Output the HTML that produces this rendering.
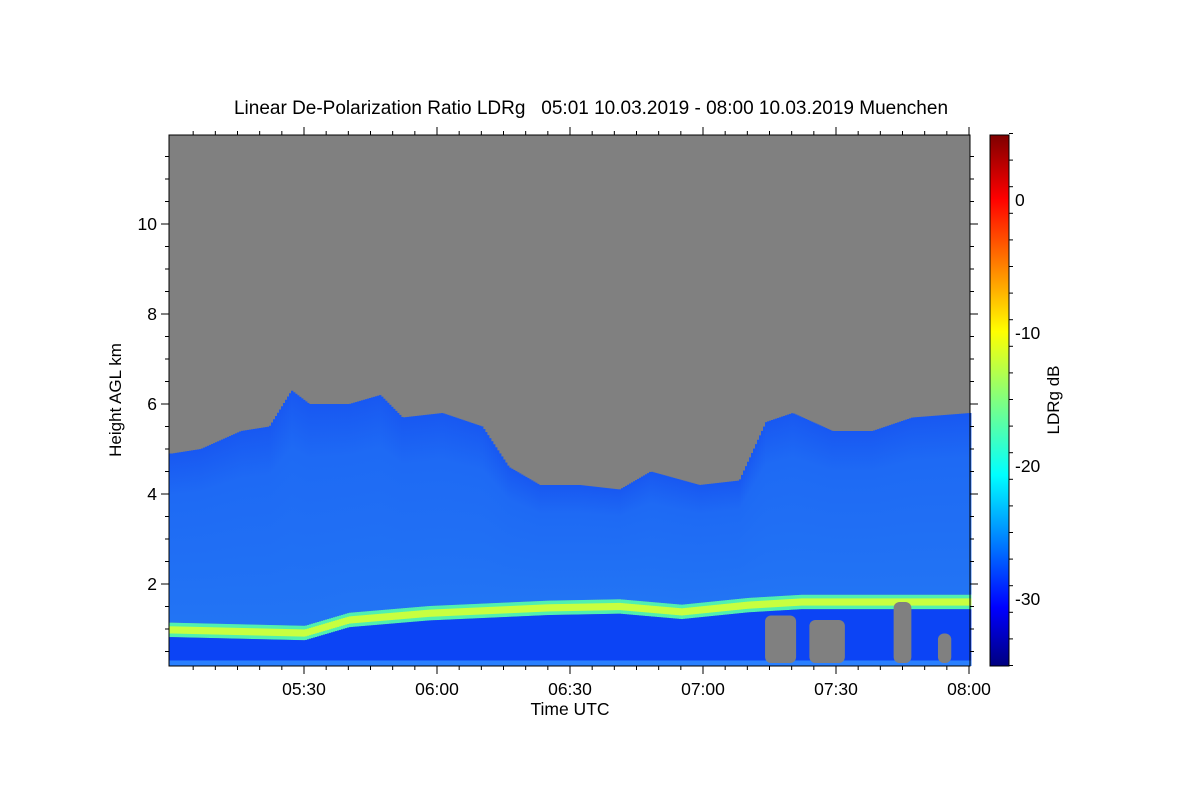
<!DOCTYPE html>
<html><head><meta charset="utf-8">
<style>
body{margin:0;background:#fff;}
svg text{font-family:"Liberation Sans",sans-serif;fill:#000;white-space:pre;}
</style></head>
<body>
<svg id="chart" width="1200" height="800" viewBox="0 0 1200 800" xmlns="http://www.w3.org/2000/svg">
<defs>
<linearGradient id="jet" x1="0" y1="1" x2="0" y2="0">
<stop offset="0" stop-color="#00007f"/>
<stop offset="0.11" stop-color="#0000ff"/>
<stop offset="0.36" stop-color="#00ffff"/>
<stop offset="0.5" stop-color="#80ff80"/>
<stop offset="0.63" stop-color="#ffff00"/>
<stop offset="0.88" stop-color="#ff0000"/>
<stop offset="1" stop-color="#7f0000"/>
</linearGradient>
<linearGradient id="upper" x1="0" y1="0" x2="0" y2="1">
<stop offset="0" stop-color="#1858f2"/>
<stop offset="0.25" stop-color="#1e6af4"/>
<stop offset="1" stop-color="#2274f4"/>
</linearGradient>
</defs>
<text x="591" y="114" font-size="19" text-anchor="middle">Linear De-Polarization Ratio LDRg   05:01 10.03.2019 - 08:00 10.03.2019 Muenchen</text>
<g id="plot"></g>
<g id="axes"></g>
<rect x="990" y="135" width="19" height="531" fill="url(#jet)" stroke="#000"/>
<g id="cbticks"></g>
<text transform="translate(121,400) rotate(-90)" font-size="17" text-anchor="middle">Height AGL km</text>
<text x="570" y="715" font-size="17.5" text-anchor="middle">Time UTC</text>
<text transform="translate(1059,400) rotate(-90)" font-size="17" text-anchor="middle">LDRg dB</text>
</svg>
<script>
// data (minutes after 05:00, km)
const topTimes=[0,6.5,15.6,22,27,31,40,47,52,61,70,76,83,92,101,108,119,128,134,140,149,158,167,180];
const topHeights=[4.9,5.0,5.4,5.5,6.3,6.0,6.0,6.2,5.7,5.8,5.5,4.6,4.2,4.2,4.1,4.5,4.2,4.3,5.6,5.8,5.4,5.4,5.7,5.8];
const blTimes=[0,30,40,58,85,101,115,130,142,180];
const blHeights=[0.98,0.91,1.2,1.35,1.47,1.5,1.38,1.53,1.6,1.6];
const gapStart=[134,144,163,173];
const gapEnd=[141,152,167,176];
const gapTop=[1.3,1.2,1.6,0.9];
const yTicks=[2,4,6,8,10];
const xTickMin=[30,60,90,120,150,180];
const xTickLabels=["05:30","06:00","06:30","07:00","07:30","08:00"];
const cbTicks=[0,-10,-20,-30];

const NS="http://www.w3.org/2000/svg";
const X0=169,X1=970,Y0=135,Y1=666;
const xs=t=>171+t*133/30;
const ys=h=>674-h*45;
const cy=v=>200-v*13.3;
function interp(ts,vs,t){for(let i=0;i<ts.length-1;i++){if(t<=ts[i+1]){const f=(t-ts[i])/(ts[i+1]-ts[i]);return vs[i]+f*(vs[i+1]-vs[i]);}}return vs[vs.length-1];}
function mk(tag,attrs,parent){const e=document.createElementNS(NS,tag);for(const k in attrs)e.setAttribute(k,attrs[k]);parent.appendChild(e);return e;}
const plot=document.getElementById('plot');
const bg=mk('rect',{x:X0,y:Y0,width:X1-X0,height:Y1-Y0,fill:'#808080'},plot);


const step=2;
for(let x=X0;x<X1;x+=step){
  const t=(x-171)*30/133;
  const top=interp(topTimes,topHeights,Math.max(0,t));
  const bl=interp(blTimes,blHeights,Math.max(0,t));
  const g=mk('g',{},plot);
  
  
  const w=step+0.4;
  mk('rect',{x:x,y:ys(top),width:w,height:ys(bl+0.16)-ys(top),fill:'url(#upper)'},g);
  mk('rect',{x:x,y:ys(bl+0.16),width:w,height:ys(bl-0.16)-ys(bl+0.16),fill:'#50f0b0'},g);
  mk('rect',{x:x,y:ys(bl+0.08),width:w,height:ys(bl-0.08)-ys(bl+0.08),fill:'#c8ff40'},g);
  mk('rect',{x:x,y:ys(bl-0.16),width:w,height:Y1-ys(bl-0.16),fill:'#0c44f5'},g);
  mk('rect',{x:x,y:ys(0.3),width:w,height:Y1-ys(0.3),fill:'#2a80ff'},g);
}
gapStart.forEach((s,i)=>{
  const r=mk('rect',{x:xs(s),y:ys(gapTop[i]),width:xs(gapEnd[i])-xs(s),height:Y1-ys(gapTop[i])-3,fill:'#808080',rx:6},plot);
  
  
});
const ax=document.getElementById('axes');
mk('rect',{x:X0,y:Y0,width:X1-X0,height:Y1-Y0,fill:'none',stroke:'#000'},ax);
for(let h=0.5;h<12;h+=0.5){const y=ys(h);if(y<Y0||y>Y1)continue;const L=(h%2===0)?8:4;
 mk('line',{x1:X0,x2:X0-L,y1:y,y2:y,stroke:'#000'},ax);mk('line',{x1:X1,x2:X1+L,y1:y,y2:y,stroke:'#000'},ax);}
yTicks.forEach(h=>{const t=mk('text',{x:157,y:ys(h)+6,'font-size':17.5,'text-anchor':'end'},ax);t.textContent=h;
 });
for(let m=5;m<=180;m+=5){const x=xs(m);const L=(m%30===0)?8:4;
 mk('line',{x1:x,x2:x,y1:Y1,y2:Y1+L,stroke:'#000'},ax);mk('line',{x1:x,x2:x,y1:Y0,y2:Y0-L,stroke:'#000'},ax);}
xTickMin.forEach((m,i)=>{const t=mk('text',{x:xs(m),y:695,'font-size':17.5,'text-anchor':'middle'},ax);t.textContent=xTickLabels[i];
 });
const cb=document.getElementById('cbticks');
for(let v=-35;v<=5;v+=2){const y=cy(v);mk('line',{x1:1009,x2:1009+(v%10===0?8:4),y1:y,y2:y,stroke:'#000'},cb);}
cbTicks.forEach(v=>{const t=mk('text',{x:1015,y:cy(v)+6,'font-size':17.5},cb);t.textContent=v;
 });
</script>
</body></html>
